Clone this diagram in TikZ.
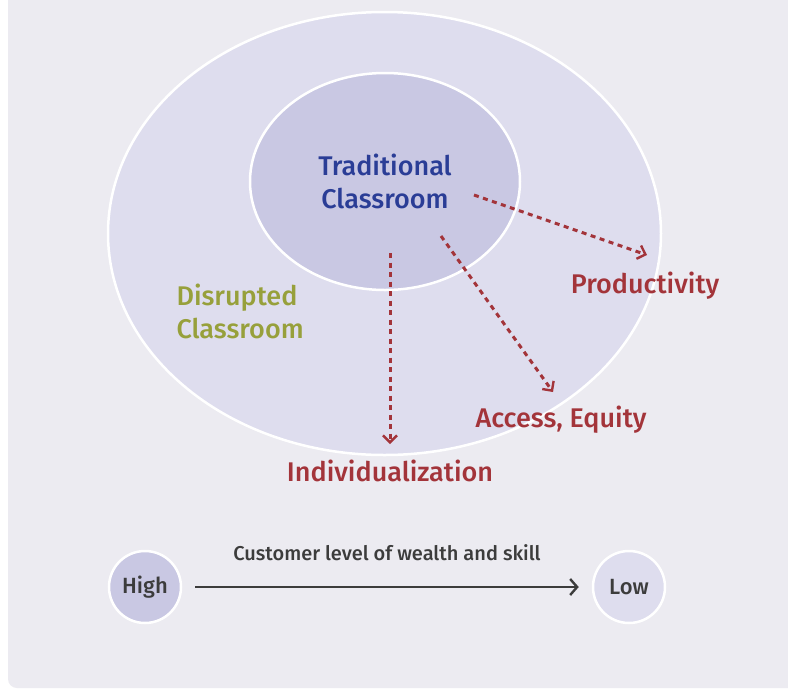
\documentclass[tikz,border=0pt]{standalone}
\usepackage{fontspec}
\setmainfont{Fira Sans}[UprightFont=* Medium]
\usetikzlibrary{arrows.meta}
\definecolor{panelgray}{HTML}{ECEBF1}
\definecolor{outerfill}{HTML}{DEDDEE}
\definecolor{innerfill}{HTML}{C9C8E3}
\definecolor{tradblue}{HTML}{2A3D96}
\definecolor{goalred}{HTML}{A3343A}
\definecolor{disrolive}{HTML}{97A03B}
\definecolor{axisgray}{HTML}{3C3C3C}
\tikzset{
	ring/.style={draw=white, line width=2.5pt},
	goal/.style={text=goalred, font=\fontsize{27}{30}\selectfont},
	goalarrow/.style={goalred, line width=3pt, dash pattern=on 5pt off 4.5pt, -{Straight Barb[length=7pt, width=14pt, line width=2.4pt]}},
	level/.style={circle, minimum size=72pt, inner sep=0pt, draw=white, line width=2.5pt, text=axisgray, font=\fontsize{22}{24}\selectfont}
}

\begin{document}
\begin{tikzpicture}[x=1pt, y=-1pt]
		%%%%% START %%%%%
		
		\useasboundingbox (0, 0) rectangle (788, 689);
		\clip (0, 0) rectangle (788, 689);
		\fill[white] (0, 0) rectangle (788, 689);
		\fill[panelgray, rounded corners=9pt] (8, -20) rectangle (810, 688);
		
		\draw[ring, fill=outerfill] (384.5, 233.5) ellipse (276.5 and 221.5);
		\draw[ring, fill=innerfill] (385, 181.5) ellipse (135 and 108.5);
		
		\node[text=tradblue, font=\fontsize{27}{33}\selectfont, align=center] (trad) at (385, 181) {Traditional\\Classroom};
		\node[text=disrolive, font=\fontsize{27}{33}\selectfont, align=left, anchor=west] (disr) at (173, 311) {Disrupted\\Classroom};
		
		\node[goal] (prod) at (645, 286) {Productivity};
		\node[goal] (access) at (561, 420) {Access, Equity};
		\node[goal] (indiv) at (390, 471) {Individualization};
		
		\coordinate (prodstart) at (474, 195);
		\coordinate (prodend) at (647, 255);
		\coordinate (accessstart) at (441, 236);
		\coordinate (accessend) at (553, 392);
		\coordinate (indivstart) at (390, 253);
		\coordinate (indivend) at (390, 444);
		
		\draw[goalarrow] (prodstart) -- (prodend);
		\draw[goalarrow] (accessstart) -- (accessend);
		\draw[goalarrow] (indivstart) -- (indivend);
		
		\node[level, fill=innerfill] (high) at (145, 587) {High};
		\node[level, fill=outerfill] (low) at (629, 587) {Low};
		
		\draw[axisgray, line width=2.8pt, shorten <=13pt, shorten >=13pt, -{Straight Barb[length=7pt, width=16pt, line width=2.4pt]}] (high) -- (low);
		\node[text=axisgray, font=\fontsize{20}{22}\selectfont] (axislabel) at (387, 553) {Customer level of wealth and skill};
		
		%%%%% END %%%%%
	\end{tikzpicture}
\end{document}
